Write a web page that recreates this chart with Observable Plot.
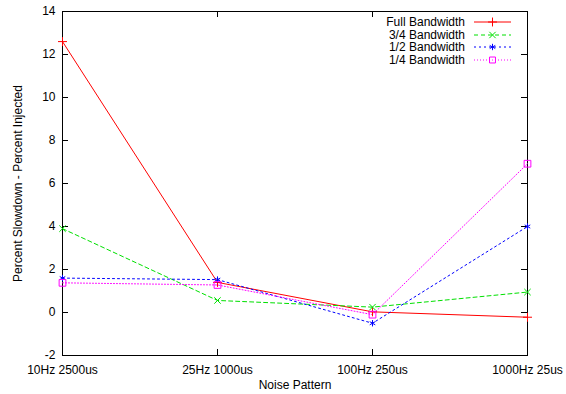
<!DOCTYPE html>
<html><head><meta charset="utf-8">
<script src="https://cdn.jsdelivr.net/npm/d3@7"></script>
<script src="https://cdn.jsdelivr.net/npm/@observablehq/plot@0.6"></script>
<style>
html,body{margin:0;padding:0;background:#fff;}
#wrap{position:relative;width:566px;height:394px;font-family:"Liberation Sans",Arial,sans-serif;}
#legend{position:absolute;font-size:12px;color:#000;}
#legend .row{display:flex;align-items:center;justify-content:flex-end;height:12.6px;}
#legend svg{margin-left:9px;}
</style>
</head><body>
<div id="wrap"></div>
<script>
const patterns = ["10Hz 2500us", "25Hz 1000us", "100Hz 250us", "1000Hz 25us"];
const seriesNames = ["Full Bandwidth", "3/4 Bandwidth", "1/2 Bandwidth", "1/4 Bandwidth"];
const fullBW = [12.6, 1.4, 0.03, -0.22];
const threeQuarterBW = [3.9, 0.56, 0.25, 0.95];
const halfBW = [1.6, 1.53, -0.5, 4.0];
const quarterBW = [1.38, 1.28, -0.1, 6.92];
const yTicks = [-2, 0, 2, 4, 6, 8, 10, 12, 14];

const styles = [
  {color: "#ff0000", dash: null, symbol: "plus", r: 3},
  {color: "#00e000", dash: "4,3", symbol: "times", r: 3},
  {color: "#0000ff", dash: "2,3", symbol: "asterisk", r: 3},
  {color: "#ff00ff", dash: "1,2", symbol: "square", r: 3.8}
];
const allValues = [fullBW, threeQuarterBW, halfBW, quarterBW];
const data = [];
allValues.forEach((vals, si) => vals.forEach((v, i) => data.push({series: seriesNames[si], pattern: patterns[i], value: v, si})));

const W = 566, H = 394, mL = 62, mR = 39, mT = 11, mB = 39;
const fw = W - mL - mR, fh = H - mT - mB, tk = 6;

const marks = [];
styles.forEach((s, si) => {
  const d = data.filter(r => r.si === si);
  marks.push(Plot.line(d, {x: "pattern", y: "value", stroke: s.color, strokeWidth: 1, strokeDasharray: s.dash || undefined}));
});
styles.forEach((s, si) => {
  const d = data.filter(r => r.si === si);
  marks.push(Plot.dot(d, {x: "pattern", y: "value", stroke: s.color, symbol: () => s.symbol, r: s.r, strokeWidth: 1}));
});

const plot = Plot.plot({
  width: W, height: H,
  marginLeft: mL, marginRight: mR, marginTop: mT, marginBottom: mB,
  style: {fontFamily: "Liberation Sans, Arial, sans-serif", fontSize: "12px", color: "#000", background: "#fff"},
  x: {type: "point", domain: patterns, padding: 0, label: null},
  y: {domain: [-2, 14], label: null},
  symbol: {type: "identity"},
  marks: [
    Plot.axisY({anchor: "left", ticks: yTicks, tickSize: 0, tickPadding: 7, tickFormat: d => String(d), fontSize: 12}),
    Plot.axisX({anchor: "bottom", ticks: patterns, tickSize: 0, tickPadding: 10, fontSize: 12}),
    Plot.tickY(yTicks, {y: d => d, stroke: "#000", insetRight: fw - tk}),
    Plot.tickY(yTicks, {y: d => d, stroke: "#000", insetLeft: fw - tk}),
    Plot.tickX(patterns, {x: d => d, stroke: "#000", insetTop: fh - tk}),
    Plot.tickX(patterns, {x: d => d, stroke: "#000", insetBottom: fh - tk}),
    Plot.frame({stroke: "#000"}),
    ...marks,
    Plot.text(["Percent Slowdown - Percent Injected"], {frameAnchor: "left", textAnchor: "middle", rotate: -90, dx: -44, fontSize: 12}),
    Plot.text(["Noise Pattern"], {frameAnchor: "bottom", dy: 33, fontSize: 12})
  ]
});
const wrap = document.getElementById("wrap");
wrap.appendChild(plot);

const legend = document.createElement("div");
legend.id = "legend";
legend.style.right = (W - 511) + "px";
legend.style.top = "16px";
seriesNames.forEach((name, i) => {
  const s = styles[i];
  const row = document.createElement("div");
  row.className = "row";
  const span = document.createElement("span");
  span.textContent = name;
  row.appendChild(span);
  const ns = "http://www.w3.org/2000/svg";
  const svg = document.createElementNS(ns, "svg");
  svg.setAttribute("width", 37); svg.setAttribute("height", 12);
  const line = document.createElementNS(ns, "line");
  line.setAttribute("x1", 0); line.setAttribute("x2", 37); line.setAttribute("y1", 6); line.setAttribute("y2", 6);
  line.setAttribute("stroke", s.color);
  if (s.dash) line.setAttribute("stroke-dasharray", s.dash);
  svg.appendChild(line);
  const sym = d3.symbol({plus: d3.symbolPlus, times: d3.symbolTimes || d3.symbolX, asterisk: d3.symbolAsterisk, square: d3.symbolSquare2 || d3.symbolSquare}[s.symbol], s.symbol === "square" ? 45 : 28)();
  const p = document.createElementNS(ns, "path");
  p.setAttribute("d", sym); p.setAttribute("transform", "translate(18.5,6)");
  p.setAttribute("fill", "none"); p.setAttribute("stroke", s.color);
  svg.appendChild(p);
  row.appendChild(svg);
  legend.appendChild(row);
});
wrap.appendChild(legend);
</script>
</body></html>
